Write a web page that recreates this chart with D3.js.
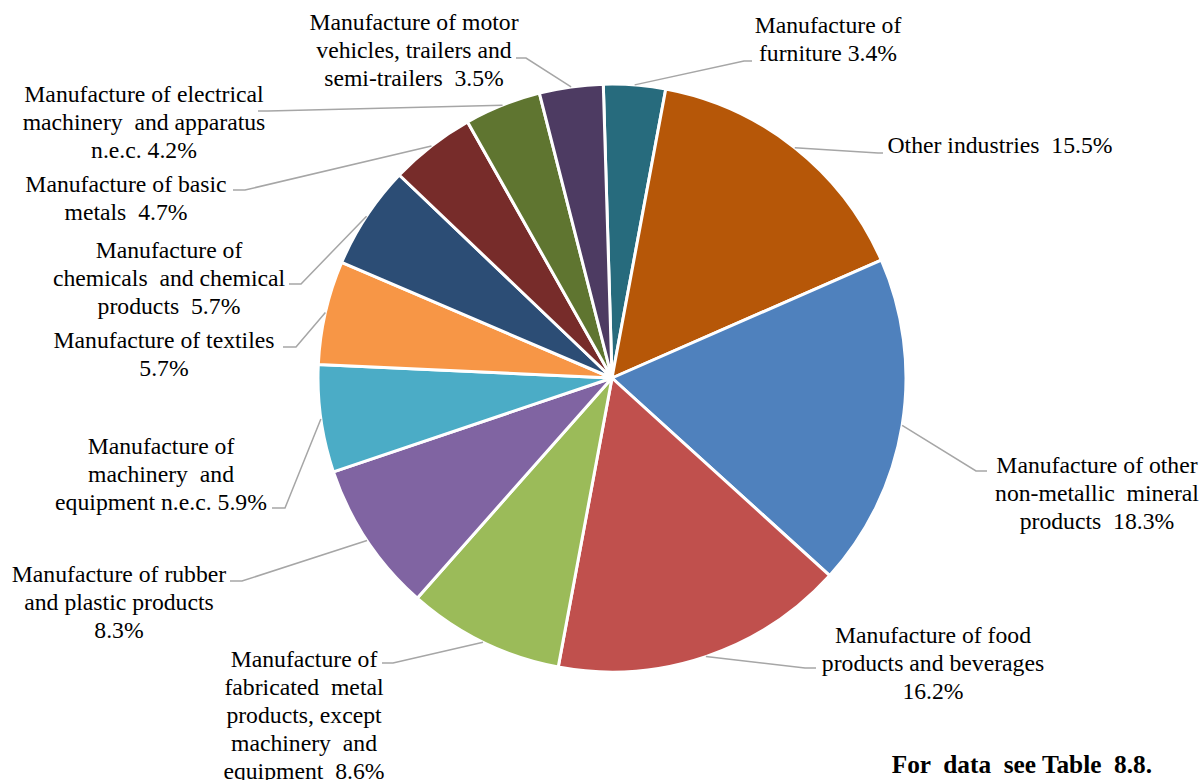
<!DOCTYPE html>
<html>
<head>
<meta charset="utf-8">
<script src="https://cdn.jsdelivr.net/npm/d3@7"></script>
<style>
  html, body { margin: 0; padding: 0; background: #fff; }
  svg { display: block; }
  text { fill: #000; white-space: pre; }
</style>
</head>
<body>
<svg id="chart" width="1201" height="780"></svg>
<script>
// ---- data ----
const categories = [
  "Manufacture of furniture",
  "Other industries",
  "Manufacture of other non-metallic mineral products",
  "Manufacture of food products and beverages",
  "Manufacture of fabricated metal products, except machinery and equipment",
  "Manufacture of rubber and plastic products",
  "Manufacture of machinery and equipment n.e.c.",
  "Manufacture of textiles",
  "Manufacture of chemicals and chemical products",
  "Manufacture of basic metals",
  "Manufacture of electrical machinery and apparatus n.e.c.",
  "Manufacture of motor vehicles, trailers and semi-trailers"
];
const values = [3.4, 15.5, 18.3, 16.2, 8.6, 8.3, 5.9, 5.7, 5.7, 4.7, 4.2, 3.5];
const colors = ["#276B7D", "#B65708", "#4F81BD", "#C0504D", "#9BBB59", "#8064A2",
                "#4BACC6", "#F79646", "#2C4D75", "#772C2A", "#5F7530", "#4D3B62"];
const labelLines = [
  ["Manufacture of", "furniture 3.4%"],
  ["Other industries  15.5%"],
  ["Manufacture of other", "non-metallic  mineral", "products  18.3%"],
  ["Manufacture of food", "products and beverages", "16.2%"],
  ["Manufacture of", "fabricated  metal", "products, except", "machinery  and", "equipment  8.6%"],
  ["Manufacture of rubber", "and plastic products", "8.3%"],
  ["Manufacture of", "machinery  and", "equipment n.e.c. 5.9%"],
  ["Manufacture of textiles", "5.7%"],
  ["Manufacture of", "chemicals  and chemical", "products  5.7%"],
  ["Manufacture of basic", "metals  4.7%"],
  ["Manufacture of electrical", "machinery  and apparatus", "n.e.c. 4.2%"],
  ["Manufacture of motor", "vehicles, trailers and", "semi-trailers  3.5%"]
];
const footnote = "For  data  see Table  8.8.";

// ---- layout (positions only) ----
const FONT = "'Liberation Serif', 'Times New Roman', Times, 'DejaVu Serif', serif";
const cx = 612, cy = 378, R = 294;
const startAngle = -1.7 * Math.PI / 180;
// label block: centre x, first baseline y; leader: end point (ax, ay), elbow x (ex)
const labelLayout = [
  {x: 828, y: 33,  ax: 752, ay: 61,  ex: 744},
  {x: 1000, y: 153, ax: 883, ay: 153, ex: 878},
  {x: 1097, y: 473, ax: 987, ay: 471, ex: 976},
  {x: 933, y: 643, ax: 816, ay: 668, ex: 805},
  {x: 304, y: 667, ax: 382, ay: 663, ex: 393},
  {x: 119, y: 582, ax: 230, ay: 581, ex: 242},
  {x: 161, y: 454, ax: 272, ay: 508, ex: 285},
  {x: 164, y: 348, ax: 283, ay: 347, ex: 296},
  {x: 169, y: 258, ax: 289, ay: 284, ex: 301},
  {x: 126, y: 192, ax: 233, ay: 190, ex: 245},
  {x: 144, y: 102, ax: 258, ay: 111, ex: 268},
  {x: 414, y: 30,  ax: 516, ay: 58,  ex: 526}
];
const lineH = 28;

const svg = d3.select("#chart");
const g = svg.append("g").attr("transform", `translate(${cx},${cy})`);

const pie = d3.pie().sort(null).value(d => d)
  .startAngle(startAngle).endAngle(startAngle + 2 * Math.PI);
const arcs = pie(values);
const arc = d3.arc().innerRadius(0).outerRadius(R);

g.selectAll("path.slice").data(arcs).join("path")
  .attr("class", "slice")
  .attr("d", arc)
  .attr("fill", (d, i) => colors[i])
  .attr("stroke", "#fff")
  .attr("stroke-width", 3)
  .attr("stroke-linejoin", "round");

// leader lines
const lines = svg.append("g");
arcs.forEach((d, i) => {
  const a = (d.startAngle + d.endAngle) / 2;
  const px = cx + R * Math.sin(a), py = cy - R * Math.cos(a);
  const L = labelLayout[i];
  lines.append("polyline")
    .attr("points", `${px},${py} ${L.ex},${L.ay} ${L.ax},${L.ay}`)
    .attr("fill", "none")
    .attr("stroke", "#A6A6A6")
    .attr("stroke-width", 1.5);
});

// labels
const labels = svg.append("g");
labelLines.forEach((ls, i) => {
  const L = labelLayout[i];
  const t = labels.append("text")
    .attr("text-anchor", "middle")
    .attr("font-family", FONT)
    .attr("font-size", 23.7);
  ls.forEach((s, j) => {
    t.append("tspan").attr("x", L.x).attr("y", L.y + j * lineH).text(s);
  });
});

svg.append("text")
  .attr("x", 1152).attr("y", 773)
  .attr("text-anchor", "end")
  .attr("font-family", FONT)
  .attr("font-size", 25.3)
  .attr("font-weight", "bold")
  .text(footnote);
</script>
</body>
</html>
